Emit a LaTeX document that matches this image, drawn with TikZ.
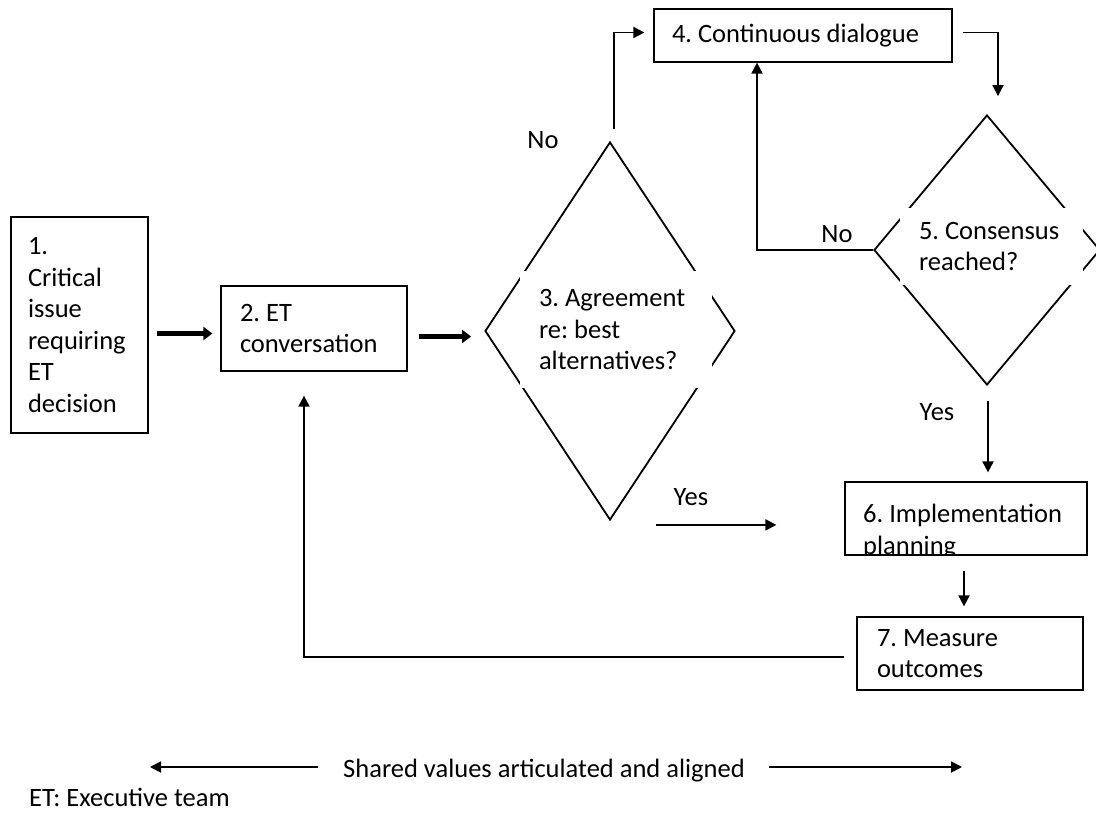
\documentclass[tikz,border=0pt]{standalone}
\usepackage{fontspec}
\setmainfont{Carlito}
\usetikzlibrary{positioning}
\usetikzlibrary{shapes.geometric}
\usetikzlibrary{arrows.meta}
\frenchspacing
\hyphenpenalty=10000

\begin{document}
\begin{tikzpicture}[%
    x=1pt, y=-1pt,
    font=\fontsize{26.5}{31.5}\selectfont,
boxnode/.style={rectangle, align=flush left, draw=black, line width=1.2pt, inner sep=0pt},
dnode/.style={diamond, draw=black, line width=1.8pt, inner sep=0pt},
dtext/.style={rectangle, align=flush left, fill=white, inner sep=0pt},
arrow/.style={-{Triangle[length=11pt,width=11pt]}, line width=1.8pt},
fatarrow/.style={-{Triangle[length=9pt,width=13pt]}, line width=5.5pt},
]
\useasboundingbox (0,0) rectangle (1096,814);

% Boxes
\node[boxnode, minimum width=137pt, minimum height=216pt, text width=103pt] (issue) at (79.5,325) {1.\\Critical\\issue\\requiring\\ET\\decision};
\node[boxnode, minimum width=186pt, minimum height=85pt, text width=148pt] (conversation) at (314,328.5) {2. ET\\conversation};
\node[boxnode, minimum width=298pt, minimum height=53pt, text width=262pt] (dialogue) at (803,35.5) {4. Continuous dialogue};
\node[boxnode, minimum width=242pt, minimum height=73pt] (planning) at (966,518.5) {};
\begin{scope}
\clip (planning.south west) rectangle (planning.north east);
\node[anchor=north west, align=flush left, inner sep=0pt] (planningtext) at (863,504) {6. Implementation\\planning};
\end{scope}
\node[boxnode, minimum width=226pt, minimum height=73pt, text width=186pt] (outcomes) at (970,653.5) {7. Measure\\outcomes};

% Decisions
\node[dnode, minimum width=250pt, minimum height=378pt] (agreement) at (610,331) {};
\node[dtext, minimum width=192pt, minimum height=117pt, text width=154pt] (agreementtext) at (616,329.5) {3. Agreement\\re: best\\alternatives?};

\node[dnode, minimum width=226pt, minimum height=270pt] (consensus) at (987,250) {};
\node[dtext, minimum width=183pt, minimum height=77pt, text width=145pt] (consensustext) at (991.5,246.5) {5. Consensus\\reached?};

% Lines
\draw[fatarrow] ([xshift=8pt,yshift=-5pt]issue.east |- conversation.center) -- ([xshift=-8pt,yshift=-5pt]conversation.west);
\draw[fatarrow] ([xshift=11pt,yshift=-8pt]conversation.east) -- ([xshift=-13pt,yshift=-8pt]conversation.east -| agreement.west);

\draw[arrow] ([xshift=4pt,yshift=12pt]agreement.north) |- ([xshift=-9pt,yshift=3pt]dialogue.west);
\draw[arrow] ([xshift=10pt,yshift=3pt]dialogue.east) -| ([xshift=11pt,yshift=18pt]consensus.north);
\draw[arrow] (consensus.west) -| ([xshift=-46pt]dialogue.south);
\draw[arrow] ([xshift=1pt,yshift=-15pt]consensus.south) -- ([xshift=1pt,yshift=9pt]consensus.south |- planning.north);
\draw[arrow] ([xshift=46pt,yshift=-4pt]agreement.south) -- ([xshift=-68pt,yshift=-6.4pt]planning.west);
\draw[arrow] ([xshift=-2pt,yshift=-15pt]planning.south) -- ([xshift=-2pt,yshift=10pt]planning.south |- outcomes.north);
\draw[arrow] ([xshift=-12pt,yshift=-3.5pt]outcomes.west) -| ([xshift=-10pt,yshift=-24pt]conversation.south);

% Labels
\node (no3) at (543,140) {No};
\node (no5) at (837,234) {No};
\node (yes5) at (937,412) {Yes};
\node (yes3) at (691,497) {Yes};

% Shared values
\node[inner sep=0pt] (shared) at (544,771) {Shared values articulated and aligned};
\coordinate (sharedleft) at (150,767);
\coordinate (sharedright) at (962,767);
\draw[arrow] ([xshift=-25pt]shared.west |- sharedleft) -- (sharedleft);
\draw[arrow] ([xshift=24pt]shared.east |- sharedright) -- (sharedright);

% Legend
\node[anchor=base west, inner sep=0pt] (legend) at (29,806) {ET: Executive team};

\end{tikzpicture}
\end{document}
